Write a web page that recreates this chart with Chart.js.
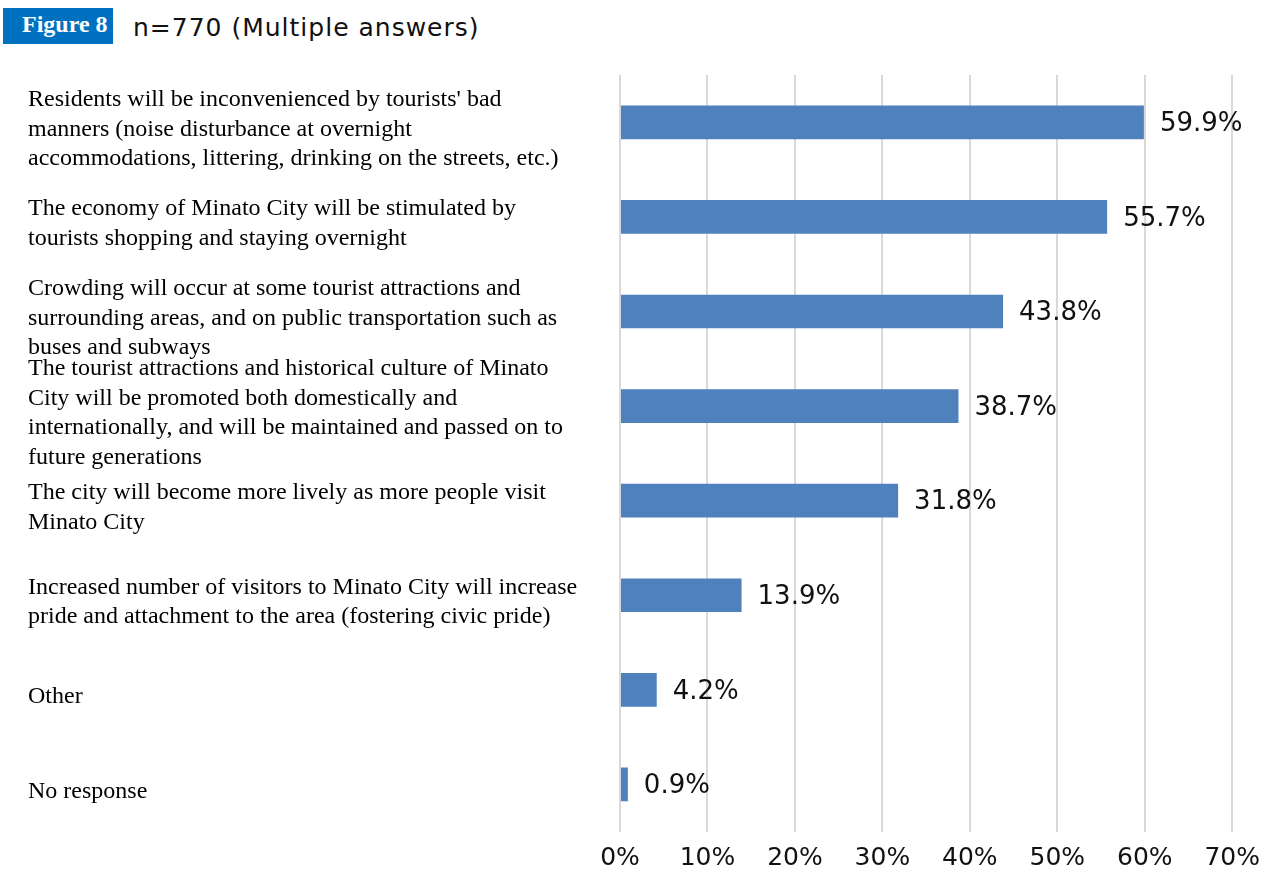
<!DOCTYPE html>
<html>
<head>
<meta charset="utf-8">
<script src="https://cdn.jsdelivr.net/npm/chart.js@4"></script>
<style>
  body { margin: 0; background: #fff; }
  #wrap { position: relative; width: 1272px; height: 876px; }
  #badge {
    position: absolute; left: 3px; top: 8px; width: 110px; height: 36px;
    background: #0070c0; color: #fff;
    font: bold 24px "Liberation Serif", "Times New Roman", serif;
    line-height: 32px; box-sizing: border-box; padding-left: 19px;
  }
  #note {
    position: absolute; left: 133px; top: 13px;
    font: 25px "DejaVu Sans", sans-serif; letter-spacing: 1px;
    color: #111; line-height: 30px;
  }
  canvas { position: absolute; left: 0; top: 0; }
</style>
</head>
<body>
<div id="wrap">
  <div id="badge">Figure 8</div>
  <div id="note">n=770 (Multiple answers)</div>
  <canvas id="chart" width="1272" height="876"></canvas>
</div>
<script>
  const categories = [
    ["Residents will be inconvenienced by tourists' bad", "manners (noise disturbance at overnight", "accommodations, littering, drinking on the streets, etc.)"],
    ["The economy of Minato City will be stimulated by", "tourists shopping and staying overnight"],
    ["Crowding will occur at some tourist attractions and", "surrounding areas, and on public transportation such as", "buses and subways"],
    ["The tourist attractions and historical culture of Minato", "City will be promoted both domestically and", "internationally, and will be maintained and passed on to", "future generations"],
    ["The city will become more lively as more people visit", "Minato City"],
    ["Increased number of visitors to Minato City will increase", "pride and attachment to the area (fostering civic pride)"],
    ["Other"],
    ["No response"]
  ];
  const shares = [59.9, 55.7, 43.8, 38.7, 31.8, 13.9, 4.2, 0.9];
  const axisTicks = [0, 10, 20, 30, 40, 50, 60, 70];

  const sansFont = '"DejaVu Sans", sans-serif';

  // percentage printed just past the end of each bar
  const valueLabels = {
    id: 'valueLabels',
    afterDatasetsDraw(chart) {
      const ctx = chart.ctx;
      const meta = chart.getDatasetMeta(0);
      ctx.save();
      ctx.font = '26px ' + sansFont;
      ctx.fillStyle = '#111';
      ctx.textAlign = 'left';
      ctx.textBaseline = 'middle';
      meta.data.forEach((bar, i) => {
        ctx.fillText(shares[i].toFixed(1) + '%', bar.x + 16, bar.y + 2);
      });
      ctx.restore();
    }
  };

  new Chart(document.getElementById('chart').getContext('2d'), {
    type: 'bar',
    data: {
      labels: categories,
      datasets: [{
        data: shares,
        backgroundColor: '#4f81bd',
        borderWidth: 0,
        categoryPercentage: 1,
        barPercentage: 0.356
      }]
    },
    options: {
      indexAxis: 'y',
      responsive: false,
      animation: false,
      layout: { padding: { left: 28, top: 75, right: 39, bottom: 0 } },
      plugins: {
        legend: { display: false },
        tooltip: { enabled: false }
      },
      scales: {
        x: {
          min: 0,
          max: 70,
          afterBuildTicks: scale => { scale.ticks = axisTicks.map(v => ({ value: v })); },
          afterFit: scale => { scale.height = 37; },
          border: { display: false },
          grid: { color: '#d9d9d9', lineWidth: 2, drawTicks: false },
          ticks: {
            padding: 12,
            color: '#111',
            font: { family: sansFont, size: 25 },
            callback: v => v + '%'
          }
        },
        y: {
          afterFit: scale => { scale.width = 592; },
          border: { display: false },
          grid: { display: false, drawTicks: false },
          ticks: {
            autoSkip: false,
            crossAlign: 'far',
            padding: 0,
            labelOffset: 7,
            color: '#000',
            font: { family: '"Liberation Serif", "Times New Roman", serif', size: 24, lineHeight: 1.23 }
          }
        }
      }
    },
    plugins: [valueLabels]
  });
</script>
</body>
</html>
